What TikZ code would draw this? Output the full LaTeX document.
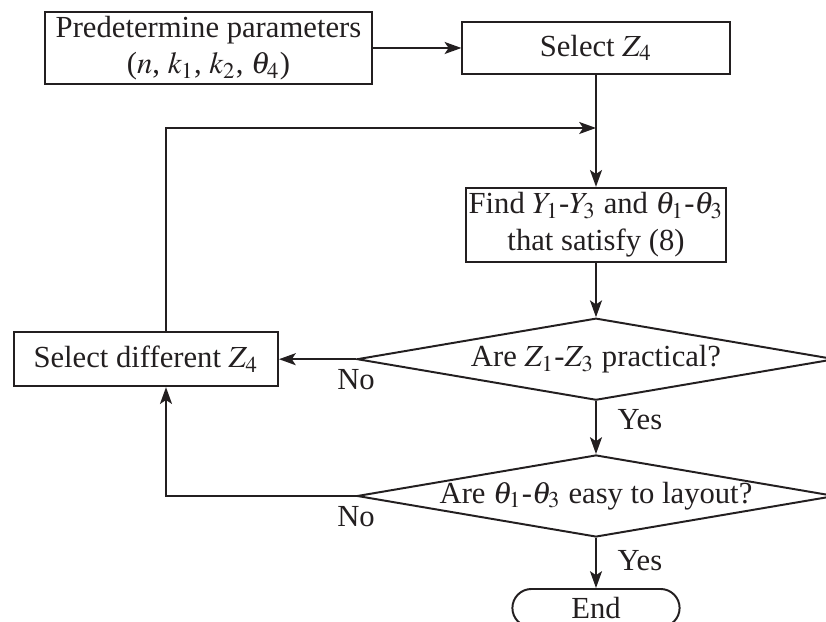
\documentclass[tikz,border=0pt]{standalone}
\usepackage{mathptmx}
\usepackage{fontspec}
\setmainfont{Liberation Serif}
\usepackage{tikz}
\usetikzlibrary{shapes.geometric, shapes.misc, arrows.meta}
\definecolor{ink}{RGB}{35, 31, 32}

\begin{document}
\begin{tikzpicture}[font=\fontsize{10.9}{12.9}\selectfont, line width=0.7pt, draw=ink, text=ink]
\tikzstyle{process} = [rectangle, draw=ink, text centered, align=center, inner sep=1pt]
\tikzstyle{decision} = [diamond, draw=ink, aspect=5.83, minimum width=5.975cm, minimum height=1.025cm, inner sep=0pt]
\tikzstyle{terminal} = [rounded rectangle, draw=ink, minimum width=2.09cm, minimum height=0.475cm, inner sep=0pt]
\tikzstyle{arrow} = [->, >={Stealth[length=0.21cm, width=0.15cm, inset=0.05cm]}]

\useasboundingbox (0,0) rectangle (10.325,-7.775);

% Main column
\node[process, minimum width=4.09cm, minimum height=0.9cm] (params) at (2.606,-0.6) {Predetermine parameters\\($n$, $k_1$, $k_2$, $\theta_4$)};
\node[process, minimum width=3.34cm, minimum height=0.65cm] (select) at (7.45,-0.6) {Select $Z_4$};
\node[process, minimum width=3.26cm, minimum height=0.925cm] (find) at (7.45,-2.81) {Find $Y_1$-$Y_3$ and $\theta_1$-$\theta_3$\\that satisfy (8)};
\node[decision] (practical) at (7.45,-4.49) {Are $Z_1$-$Z_3$ practical?};
\node[decision] (layout) at (7.45,-6.2) {Are $\theta_1$-$\theta_3$ easy to layout?};
\node[terminal] (stop) at (7.45,-7.6) {End};

% Feedback box
\node[process, minimum width=3.3cm, minimum height=0.675cm] (change) at (1.825,-4.49) {Select different $Z_4$};
\coordinate (merge) at (7.45,-1.6);

% Arrows
\draw[arrow] (params) -- (select);
\draw[arrow] (select) -- (find);
\draw[arrow] (find) -- (practical);
\draw[arrow] (practical) -- node[right, pos=0.35, xshift=4pt] {Yes} (layout);
\draw[arrow] (layout) -- node[right, pos=0.45, xshift=4pt] {Yes} (stop);
\draw[arrow] (practical.west) -- node[below, pos=0] {No} (change);
\draw[arrow] (layout.west) node[below] {No} -| ([xshift=0.25cm]change.south);
\draw[arrow] ([xshift=0.25cm]change.north) |- (merge);
\end{tikzpicture}
\end{document}
